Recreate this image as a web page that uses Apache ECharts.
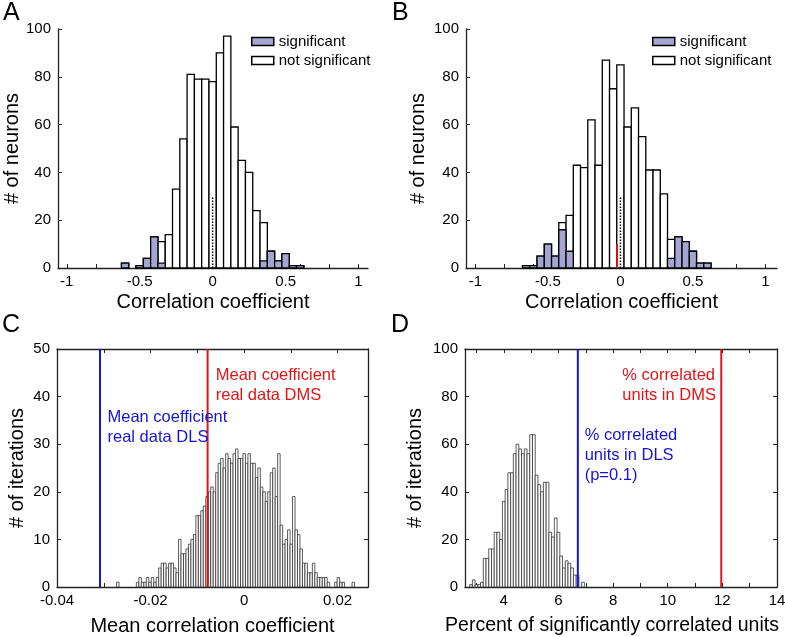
<!DOCTYPE html>
<html>
<head>
<meta charset="utf-8">
<script src="https://cdn.jsdelivr.net/npm/echarts@6/dist/echarts.min.js"></script>
<style>
html, body { margin: 0; padding: 0; background: #fff; }
#main { width: 785px; height: 637px; }
</style>
</head>
<body>
<div id="main"></div>
<script>
// A: DLS correlation coefficients (bin centers, all units, significant units)
var aBins = [-0.6, -0.55, -0.5, -0.45, -0.4, -0.35, -0.3, -0.25, -0.2, -0.15, -0.1, -0.05, 0, 0.05, 0.1, 0.15, 0.2, 0.25, 0.3, 0.35, 0.4, 0.45, 0.5, 0.55, 0.6];
var aTotal = [2, 0, 1, 4, 13, 11, 14, 33, 54, 81, 79, 79, 78, 90, 97, 59, 45, 40, 24, 19, 7, 3, 6, 1, 1];
var aSig = [2, 0, 1, 4, 13, 2, 0, 0, 0, 0, 0, 0, 0, 0, 0, 0, 0, 0, 0, 3, 7, 3, 6, 1, 1];
var aDotted = [[0, 0], [0, 30]];

// B: DMS correlation coefficients
var bBins = [-0.65, -0.6, -0.55, -0.5, -0.45, -0.4, -0.35, -0.3, -0.25, -0.2, -0.15, -0.1, -0.05, 0, 0.05, 0.1, 0.15, 0.2, 0.25, 0.3, 0.35, 0.4, 0.45, 0.5, 0.55, 0.6];
var bTotal = [1, 1, 5, 10, 5, 19, 22, 43, 42, 62, 43, 87, 75, 85, 59, 67, 55, 41, 41, 31, 12, 13, 11, 7, 2, 2];
var bSig = [1, 1, 5, 10, 5, 16, 7, 0, 0, 0, 0, 0, 0, 0, 0, 0, 0, 0, 0, 0, 4, 13, 11, 7, 2, 2];
var bDotted = [[0, 0], [0, 30]];
var bRed = [[-0.023, 0], [-0.023, 10]];

// C: shuffled mean correlation coefficient
var cBinStart = -0.027, cBinWidth = 0.00053;
var cCounts = [1, 0, 0, 0, 0, 0, 0, 0,
  1, 2, 1, 1, 2, 1, 2, 1, 2,
  4, 5, 5, 4, 5, 5, 4, 3, 10, 7, 7, 8, 9, 10, 11, 15, 15, 16, 17, 19, 20, 21, 20,
  24, 26, 27, 25, 28, 27, 26, 28, 29, 27, 27, 28, 26, 28, 26, 26, 23, 25,
  21, 20, 18, 20, 24, 25, 19, 28, 13, 9, 10, 12, 9, 19,
  12, 11, 8, 5, 5, 3, 3, 5, 3, 2, 2, 2, 2, 1, 0, 0, 1, 2, 1, 1, 0, 0, 0, 1];
var cDLS = -0.0308, cDMS = -0.0078;

// D: shuffled percent of significantly correlated units
var dBinStart = 2.8, dBinWidth = 0.1;
var dCounts = [1, 3, 1, 1, 2, 12, 12, 16, 16, 23, 23, 20, 36, 41, 48, 48, 56, 60, 58, 56,
  58, 56, 64, 64, 47, 43, 40, 44, 44, 23, 21, 29, 23, 13, 8, 11, 10, 8, 5, 5, 0, 2];
var dDLS = 6.71, dDMS = 11.96;

var FONT = '"Liberation Sans", Arial, sans-serif';
var SIG = '#a5a5d3';
var BLUE = '#1414d2';
var RED = '#e01414';

function pairs(xs, ys) {
    return xs.map(function (x, i) { return [x, ys[i]]; });
}
function binned(start, width, counts) {
    return counts.map(function (c, i) { return [start + i * width, c]; });
}

function hist(name, axis, data, width, fill, stroke, lw, z) {
    return {
        type: 'custom', name: name, xAxisIndex: axis, yAxisIndex: axis,
        data: data, encode: {x: 0, y: 1}, z: z, silent: true,
        itemStyle: {color: fill, borderColor: stroke, borderWidth: lw},
        renderItem: function (params, api) {
            var x = api.value(0), y = api.value(1);
            if (!y) return;
            var p0 = api.coord([x - width / 2, y]);
            var p1 = api.coord([x + width / 2, 0]);
            return {
                type: 'rect',
                shape: {x: p0[0], y: p0[1], width: p1[0] - p0[0], height: p1[1] - p0[1]},
                style: {fill: fill, stroke: stroke, lineWidth: lw}
            };
        }
    };
}

function vline(axis, data, color, width, type) {
    return {
        type: 'line', xAxisIndex: axis, yAxisIndex: axis, data: data,
        symbol: 'none', silent: true, z: 10,
        lineStyle: {color: color, width: width, type: type || 'solid'}
    };
}

// text anchored at a data point (left edge, vertical middle)
function note(axis, pos, text, color) {
    return {
        type: 'custom', xAxisIndex: axis, yAxisIndex: axis, data: [pos],
        encode: {x: 0, y: 1}, silent: true, z: 12,
        renderItem: function (params, api) {
            var p = api.coord([api.value(0), api.value(1)]);
            return {
                type: 'text', x: p[0], y: p[1],
                style: {
                    text: text, fill: color, fontSize: 16.5, fontFamily: FONT,
                    lineHeight: 20, align: 'left', verticalAlign: 'middle'
                }
            };
        }
    };
}

function seq(a, b, step) {
    var out = [];
    for (var v = a; v <= b + 1e-9; v += step) out.push(Math.round(v * 1000) / 1000);
    return out;
}

var tickStyle = {show: true, inside: true, length: 4, lineStyle: {color: '#222', width: 1}};
var lineStyle = {show: true, onZero: false, lineStyle: {color: '#222', width: 1.3}};
var labelStyle = {color: '#000', fontSize: 15, fontFamily: FONT};
var nameStyle = {color: '#000', fontSize: 20, fontFamily: FONT};

function xBottom(grid, min, max, ticks, labels, name, gap) {
    return {
        type: 'value', gridIndex: grid, min: min, max: max, position: 'bottom',
        axisLine: lineStyle, splitLine: {show: false},
        axisTick: Object.assign({customValues: ticks}, tickStyle),
        axisLabel: Object.assign({customValues: labels, margin: 6}, labelStyle),
        name: name, nameLocation: 'middle', nameGap: gap, nameTextStyle: nameStyle
    };
}
function xTop(grid, min, max, ticks) {
    return {
        type: 'value', gridIndex: grid, min: min, max: max, position: 'top',
        axisLine: lineStyle, splitLine: {show: false},
        axisTick: Object.assign({customValues: ticks}, tickStyle),
        axisLabel: {show: false}
    };
}
function yLeft(grid, max, interval, name, gap) {
    return {
        type: 'value', gridIndex: grid, min: 0, max: max, interval: interval, position: 'left',
        axisLine: lineStyle, splitLine: {show: false}, axisTick: tickStyle,
        axisLabel: Object.assign({margin: 7}, labelStyle),
        name: name, nameLocation: 'middle', nameGap: gap, nameTextStyle: nameStyle
    };
}
function yRight(grid, max, interval) {
    return {
        type: 'value', gridIndex: grid, min: 0, max: max, interval: interval, position: 'right',
        axisLine: lineStyle, splitLine: {show: false}, axisTick: tickStyle,
        axisLabel: {show: false}
    };
}

var corrTicks = seq(-1, 1, 0.2);
var corrLabels = [-1, -0.5, 0, 0.5, 1];
var cTicks = [-0.04, -0.03, -0.02, -0.01, 0, 0.01, 0.02];
var cLabels = [-0.04, -0.02, 0, 0.02];
var dTicks = seq(3, 14, 1);
var dLabels = [4, 6, 8, 10, 12, 14];

var chart = echarts.init(document.getElementById('main'), null, {renderer: 'canvas'});

var legendItems = [
    {name: 'significant', icon: 'rect', itemStyle: {color: SIG, borderColor: '#000', borderWidth: 1.5}},
    {name: 'not significant', icon: 'rect', itemStyle: {color: '#fff', borderColor: '#000', borderWidth: 1.5}}
];
function legendAt(left) {
    return {
        left: left, top: 29, orient: 'vertical', itemWidth: 22, itemHeight: 8, itemGap: 4,
        selectedMode: false, data: legendItems,
        textStyle: {color: '#000', fontSize: 15, fontFamily: FONT}
    };
}

function gridAt(left, top, width, height) {
    return {left: left, top: top, width: width, height: height, outerBoundsMode: 'none', containLabel: false};
}

var dAxis = xBottom(3, 2.58, 14, dTicks, dLabels, 'Percent of significantly correlated units', 29);
dAxis.nameTextStyle = {color: '#000', fontSize: 19.5, fontFamily: FONT, padding: [0, 18, 0, 0]};

var option = {
    animation: false,
    backgroundColor: '#fff',
    textStyle: {fontFamily: FONT},
    legend: [legendAt(246), legendAt(647)],
    grid: [
        gridAt(58, 29, 310, 239),
        gridAt(466, 29, 311, 239),
        gridAt(57, 349, 311, 238),
        gridAt(465, 349, 312, 238)
    ],
    xAxis: [
        xBottom(0, -1.06, 1.065, corrTicks, corrLabels, 'Correlation coefficient', 24),
        xBottom(1, -1.065, 1.08, corrTicks, corrLabels, 'Correlation coefficient', 24),
        xBottom(2, -0.04, 0.0265, cTicks, cLabels, 'Mean correlation coefficient', 29),
        xTop(2, -0.04, 0.0265, cTicks),
        dAxis,
        xTop(3, 2.58, 14, dTicks)
    ],
    yAxis: [
        yLeft(0, 100, 20, '# of neurons', 26),
        yLeft(1, 100, 20, '# of neurons', 38),
        yLeft(2, 50, 10, '# of iterations', 30),
        yRight(2, 50, 10),
        yLeft(3, 100, 20, '# of iterations', 40),
        yRight(3, 100, 20)
    ],
    graphic: [
        {type: 'text', left: 3, top: 1, style: {text: 'A', fontSize: 25, fontFamily: FONT, fill: '#000'}},
        {type: 'text', left: 392, top: 1, style: {text: 'B', fontSize: 25, fontFamily: FONT, fill: '#000'}},
        {type: 'text', left: 2, top: 313, style: {text: 'C', fontSize: 25, fontFamily: FONT, fill: '#000'}},
        {type: 'text', left: 391, top: 313, style: {text: 'D', fontSize: 25, fontFamily: FONT, fill: '#000'}}
    ],
    series: [
        hist('not significant', 0, pairs(aBins, aTotal), 0.05, '#fff', '#000', 1.3, 2),
        hist('significant', 0, pairs(aBins, aSig), 0.05, SIG, '#000', 1.3, 3),
        vline(0, aDotted, '#000', 1.5, 'dotted'),

        hist('not significant', 1, pairs(bBins, bTotal), 0.05, '#fff', '#000', 1.3, 2),
        hist('significant', 1, pairs(bBins, bSig), 0.05, SIG, '#000', 1.3, 3),
        vline(1, bDotted, '#000', 1.5, 'dotted'),
        vline(1, bRed, '#c81e1e', 2),

        hist('c', 2, binned(cBinStart, cBinWidth, cCounts), cBinWidth, '#fff', '#333', 0.8, 2),
        vline(2, [[cDLS, 0], [cDLS, 50]], BLUE, 2),
        vline(2, [[cDMS, 0], [cDMS, 50]], RED, 2),
        note(2, [-0.00605, 42.3], 'Mean coefficient\nreal data DMS', RED),
        note(2, [-0.0292, 33.5], 'Mean coefficient\nreal data DLS', BLUE),

        hist('d', 4, binned(dBinStart, dBinWidth, dCounts), dBinWidth, '#fff', '#333', 0.8, 2),
        vline(4, [[dDLS, 0], [dDLS, 100]], BLUE, 2),
        vline(4, [[dDMS, 0], [dDMS, 100]], RED, 2),
        note(4, [8.34, 84.8], '% correlated\nunits in DMS', RED),
        note(4, [6.96, 55.4], '% correlated\nunits in DLS\n(p=0.1)', BLUE)
    ]
};
chart.setOption(option);
</script>
</body>
</html>
